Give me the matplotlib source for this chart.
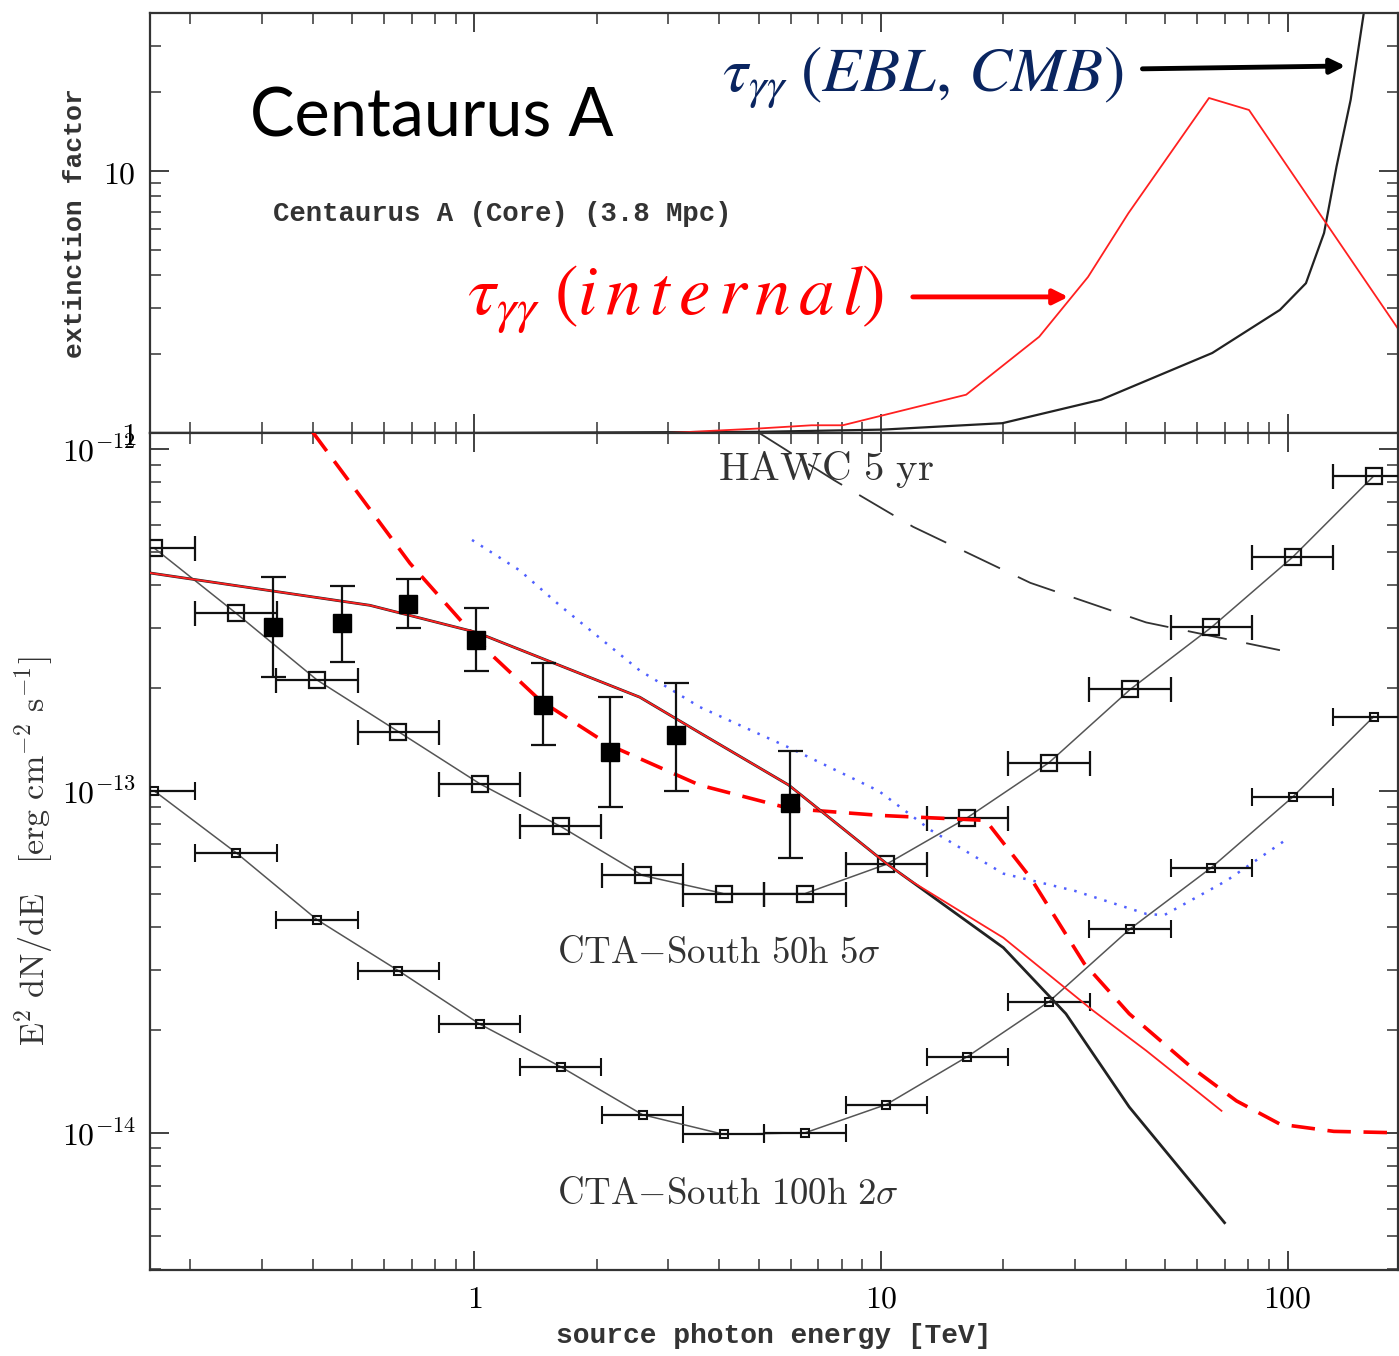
import numpy as np
import matplotlib
matplotlib.use('Agg')
import matplotlib.pyplot as plt
from matplotlib.ticker import LogLocator, NullFormatter, FixedLocator, FixedFormatter

plt.rcParams['mathtext.fontset'] = 'cm'

# ---- top panel: extinction factors ----
ebl_E = [0.16, 1.0, 5.0, 10.1, 19.9, 34.8, 65.3, 95.8, 111, 123, 132, 143, 154, 165]
ebl_tau = [1.0, 1.0, 1.01, 1.03, 1.09, 1.34, 2.02, 2.95, 3.73, 5.8, 10.4, 18.7, 40, 90]

int_E = [0.16, 3.0, 5.0, 6.75, 8.05, 16.2, 24.5, 32.3, 40.6, 64.1, 80.4, 188]
int_tau = [1.0, 1.0, 1.04, 1.07, 1.07, 1.40, 2.33, 3.94, 6.9, 19.0, 17.1, 2.47]

# ---- bottom panel ----
# CTA-South sensitivities (bin centres, TeV)
sens_E = [0.163, 0.259, 0.41, 0.65, 1.03, 1.63, 2.59, 4.1, 6.5, 10.3, 16.3, 25.9, 41, 65, 103, 163]
sens50_F = [5.13e-13, 3.31e-13, 2.11e-13, 1.49e-13, 1.05e-13, 7.87e-14, 5.66e-14, 5.01e-14,
            5.01e-14, 6.10e-14, 8.35e-14, 1.21e-13, 1.98e-13, 3.01e-13, 4.83e-13, 8.34e-13]
sens100_F = [1.0e-13, 6.6e-14, 4.2e-14, 2.98e-14, 2.08e-14, 1.56e-14, 1.13e-14, 9.9e-15,
             1.0e-14, 1.21e-14, 1.67e-14, 2.42e-14, 3.95e-14, 5.97e-14, 9.6e-14, 1.65e-13]
half_bin_dex = 0.1

# measured points
data_E = [0.319, 0.472, 0.686, 1.01, 1.47, 2.15, 3.13, 5.97]
data_F = [3.01e-13, 3.09e-13, 3.52e-13, 2.76e-13, 1.78e-13, 1.30e-13, 1.46e-13, 9.25e-14]
data_hi = [4.22e-13, 3.97e-13, 4.16e-13, 3.42e-13, 2.36e-13, 1.88e-13, 2.07e-13, 1.31e-13]
data_lo = [2.15e-13, 2.39e-13, 2.99e-13, 2.25e-13, 1.36e-13, 8.95e-14, 1.0e-13, 6.38e-14]

# model without / with internal absorption
model_E = [0.159, 0.553, 1.01, 2.55, 3.58, 5.93, 10.3, 11.8, 20.0, 28.5, 40.8, 70.0]
model_F = [4.34e-13, 3.49e-13, 2.91e-13, 1.88e-13, 1.48e-13, 1.04e-13, 6.14e-14, 5.47e-14,
           3.48e-14, 2.23e-14, 1.19e-14, 5.46e-15]
model_red_E = [0.159, 0.553, 1.01, 2.55, 3.58, 5.93, 10.3, 11.8, 20.0, 33.2, 44.9, 68.8]
model_red_F = [4.34e-13, 3.49e-13, 2.91e-13, 1.88e-13, 1.48e-13, 1.04e-13, 6.14e-14, 5.47e-14,
               3.72e-14, 2.28e-14, 1.74e-14, 1.16e-14]

# red dashed model
dash_E = [0.40, 0.694, 1.09, 1.45, 2.15, 3.58, 5.97, 9.95, 18.1, 23.3, 31.6, 40.8, 58.2,
          74.9, 95.9, 130, 189]
dash_F = [1.12e-12, 4.63e-13, 2.53e-13, 1.84e-13, 1.36e-13, 1.04e-13, 8.88e-14, 8.48e-14,
          8.2e-14, 5.58e-14, 3.13e-14, 2.23e-14, 1.55e-14, 1.24e-14, 1.06e-14, 1.01e-14, 1.0e-14]

# blue dotted
blue_E = [0.986, 1.29, 1.62, 2.55, 3.58, 5.93, 9.87, 13.3, 20.0, 30.0, 44.9, 49.7, 70.9, 98.5]
blue_F = [5.42e-13, 4.42e-13, 3.49e-13, 2.25e-13, 1.76e-13, 1.34e-13, 1.00e-13, 7.66e-14,
          5.73e-14, 5.1e-14, 4.37e-14, 4.33e-14, 5.47e-14, 7.16e-14]

# HAWC 5 yr
hawc_E = [4.98, 7.66, 12.0, 23.3, 44.9, 95.8]
hawc_F = [1.12e-12, 8.11e-13, 5.92e-13, 4.06e-13, 3.11e-13, 2.58e-13]

xlim = (0.1591, 187.0)

fig = plt.figure(figsize=(13.99, 13.56), dpi=100)
ax1 = fig.add_axes([0.1072, 0.6807, 0.8921, 0.3097])
ax2 = fig.add_axes([0.1072, 0.0634, 0.8921, 0.6173])

serif_tick = 23
for ax in (ax1, ax2):
    ax.set_xscale('log')
    ax.set_yscale('log')
    ax.set_xlim(*xlim)
    for s in ax.spines.values():
        s.set_linewidth(1.6)
        s.set_color('#333333')
    ax.tick_params(which='both', direction='in', top=True, right=True, color='#333333')
    ax.tick_params(which='major', length=14, width=1.3, labelsize=serif_tick, pad=10)
    ax.tick_params(which='minor', length=8, width=1.1)
    ax.xaxis.set_minor_locator(LogLocator(base=10, subs=np.arange(2, 10)))
    ax.xaxis.set_minor_formatter(NullFormatter())
    ax.yaxis.set_minor_locator(LogLocator(base=10, subs=np.arange(2, 10), numticks=20))
    ax.yaxis.set_minor_formatter(NullFormatter())

# ---- top panel ----
ax1.set_ylim(1.0, 40.1)
ax1.plot(ebl_E, ebl_tau, color='#222222', lw=1.6)
ax1.plot(int_E, int_tau, color='#ff2020', lw=1.3)
ax1.yaxis.set_major_locator(FixedLocator([1, 10]))
ax1.yaxis.set_major_formatter(FixedFormatter([r'$1$', r'$10$']))
ax1.xaxis.set_major_formatter(NullFormatter())
ax1.set_ylabel('extinction factor', family='Liberation Mono', fontweight='bold',
               fontsize=19, color='#333333', labelpad=12)

ax1.text(0.080, 0.705, 'Centaurus A', transform=ax1.transAxes, family='Lato',
         fontsize=48, color='black', va='baseline', ha='left')
ax1.text(0.0986, 0.521, 'Centaurus A (Core) (3.8 Mpc)', transform=ax1.transAxes,
         family='Liberation Mono', fontweight='bold', fontsize=19.7, color='#333333',
         va='center', ha='left')
ax1.text(0.458, 0.845, r'$\tau_{\gamma\gamma}\;(EBL,\, CMB)$', transform=ax1.transAxes,
         math_fontfamily='stix', fontsize=46, color='#0a2560', va='center', ha='left')
ax1.text(0.254, 0.317, r'$\tau_{\gamma\gamma}\;(i\,n\,t\,e\,r\,n\,a\,l)$', transform=ax1.transAxes,
         math_fontfamily='stix', fontsize=51, color='#ff0000', va='center', ha='left')
ax1.annotate('', xy=(0.960, 0.874), xytext=(0.793, 0.867), xycoords='axes fraction',
             arrowprops=dict(arrowstyle='-|>', color='black', lw=3.5, mutation_scale=22))
ax1.annotate('', xy=(0.738, 0.324), xytext=(0.609, 0.324), xycoords='axes fraction',
             arrowprops=dict(arrowstyle='-|>', color='#ff0000', lw=3.5, mutation_scale=22))

# ---- bottom panel ----
ax2.set_ylim(3.97e-15, 1.114e-12)
ax2.yaxis.set_major_locator(FixedLocator([1e-14, 1e-13, 1e-12]))
ax2.yaxis.set_major_formatter(FixedFormatter([r'$10^{-14}$', r'$10^{-13}$', r'$10^{-12}$']))
ax2.xaxis.set_major_locator(FixedLocator([1, 10, 100]))
ax2.xaxis.set_major_formatter(FixedFormatter([r'$\mathbf{1}$', r'$\mathbf{10}$', r'$\mathbf{100}$']))

sE = np.array(sens_E)
xerr = [sE - sE * 10**-half_bin_dex, sE * 10**half_bin_dex - sE]

ax2.plot(sens_E, sens50_F, color='#555555', lw=1.1, zorder=2)
ax2.errorbar(sens_E, sens50_F, xerr=xerr, fmt='s', ms=12, mfc='none', mec='#111111', mew=1.6,
             ecolor='#111111', elinewidth=1.6, capsize=9, capthick=1.6, zorder=3)
ax2.plot(sens_E, sens100_F, color='#555555', lw=1.1, zorder=2)
ax2.errorbar(sens_E, sens100_F, xerr=xerr, fmt='s', ms=6, mfc='none', mec='#111111', mew=1.5,
             ecolor='#111111', elinewidth=1.6, capsize=6.5, capthick=1.6, zorder=3)

ax2.plot(hawc_E, hawc_F, color='#333333', lw=1.3, dashes=(22, 11), zorder=2)
ax2.plot(blue_E, blue_F, color='#5060ff', lw=1.8, dashes=(1, 3.2), zorder=2)
ax2.plot(dash_E, dash_F, color='#ff0000', lw=2.6, dashes=(6.5, 3.5), zorder=4)
ax2.plot(model_E, model_F, color='#222222', lw=2.0, zorder=4)
ax2.plot(model_red_E, model_red_F, color='#ff2020', lw=1.3, zorder=5)

dF = np.array(data_F)
yerr = [dF - np.array(data_lo), np.array(data_hi) - dF]
ax2.errorbar(data_E, data_F, yerr=yerr, fmt='s', ms=13, color='black', ecolor='#111111',
             elinewidth=1.6, capsize=9, capthick=1.6, zorder=6)

ax2.text(0.455, 0.956, r'$\mathrm{HAWC\ 5\ yr}$', transform=ax2.transAxes, fontsize=29.5,
         color='#333333', va='center', ha='left')
ax2.text(0.326, 0.379, r'$\mathrm{CTA{-}South\ 50h\ 5}\sigma$', transform=ax2.transAxes,
         fontsize=26.5, color='#333333', va='center', ha='left')
ax2.text(0.326, 0.092, r'$\mathrm{CTA{-}South\ 100h\ 2}\sigma$', transform=ax2.transAxes,
         fontsize=26.5, color='#333333', va='center', ha='left')

ax2.set_xlabel('source photon energy [TeV]', family='Liberation Mono', fontweight='bold',
               fontsize=20.2, color='#333333', labelpad=6)
ax2.set_ylabel(r'$\mathrm{E^2\ dN/dE\ \ \ [erg\ cm^{-2}\ s^{-1}]}$', fontsize=24.5,
               color='#333333', labelpad=4)

fig.savefig('out.png', dpi=100)
